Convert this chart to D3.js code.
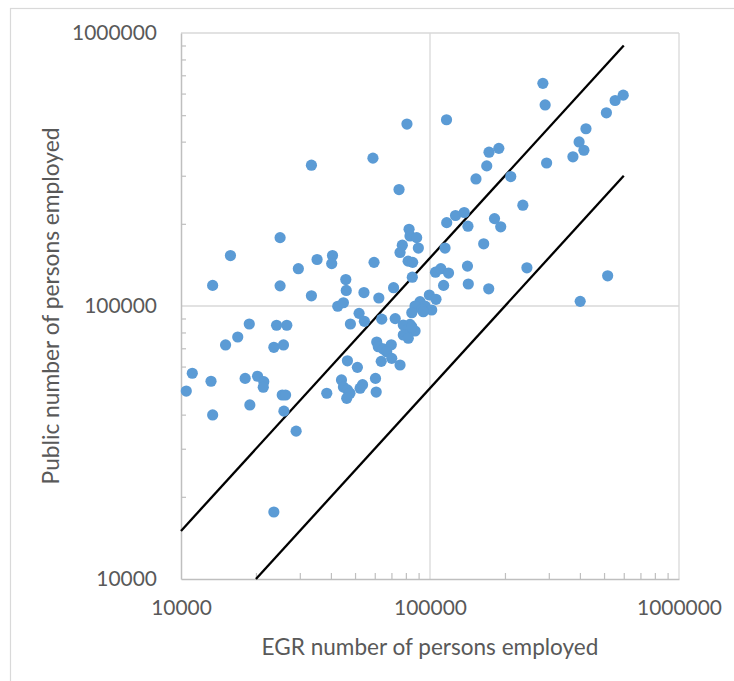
<!DOCTYPE html>
<html>
<head>
<meta charset="utf-8">
<script src="https://cdn.jsdelivr.net/npm/d3@7"></script>
<style>
  body { margin: 0; background: #fff; }
  text { font-family: Lato, "Open Sans", sans-serif; fill: #595959; }
</style>
</head>
<body>
<svg id="chart" width="734" height="681"></svg>
<script>
// EGR vs public count of persons employed, one point per unit
const egrEmployed = [
  80800, 116500, 33400, 59000, 75100, 116700, 82400, 83100, 88400, 89800,
  77400, 75800, 25000, 15800, 35200, 40600, 40300, 29600, 59600, 81700,
  85200, 114900, 105200, 110500, 118700, 84900, 13400, 25000, 45900, 46100,
  71400, 54300, 33400, 62300, 113400, 284000, 290000, 597000, 554000, 511000,
  423000, 397000, 415000, 375000, 294000, 172600, 189000, 169000, 153000, 211000,
  236000, 126600, 137200, 142000, 181600, 192300, 164300, 141400, 142500, 172100,
  245000, 517000, 401000, 99400, 105700, 91200, 87100, 95500, 101600, 84500,
  92600, 94000, 42600, 44900, 51900, 54500, 47900, 64000, 72500, 78100,
  83100, 87100, 80600, 78100, 81800, 84500, 18800, 24200, 26600, 16900,
  15100, 23600, 25800, 61100, 62000, 64900, 69900, 67000, 63700, 70200,
  75800, 46600, 51100, 11100, 10500, 13200, 18100, 20300, 21500, 21400,
  44100, 44900, 46600, 47700, 46300, 52400, 53600, 60400, 60800, 38500,
  25500, 26300, 18900, 13400, 25900, 29000, 23600
];
const publicEmployed = [
  464000, 481000, 328000, 348000, 267000, 202000, 191000, 180500, 178000, 163000,
  167000, 157000, 178000, 153000, 148000, 153000, 143000, 137000, 144500, 146000,
  144500, 163000, 133000, 137000, 132000, 127500, 119000, 118500, 125000, 114000,
  116700, 112000, 109000, 107000, 119000, 654000, 545000, 592000, 566000, 510000,
  446000, 399000, 372000, 352000, 334000, 366000, 378000, 326000, 292000, 298000,
  234000, 214500, 220000, 196000, 209000, 195000, 169000, 140000, 120400, 115600,
  138000, 129000, 104000, 109700, 105800, 103700, 100000, 100000, 96700, 94500,
  97300, 95300, 99800, 102800, 94000, 87900, 85900, 89500, 89900, 85200,
  85600, 81000, 81700, 78300, 76200, 84000, 85900, 85000, 85000, 77000,
  72000, 70600, 72000, 73800, 70900, 69600, 72100, 68000, 62700, 64300,
  60800, 63000, 59600, 56700, 48800, 53000, 54300, 55300, 52800, 50400,
  53600, 50500, 49300, 47900, 45900, 50000, 51500, 54300, 48400, 47900,
  47200, 47200, 43400, 39900, 41200, 34800, 17600
];

// Reference lines: public = 1.5 x EGR and public = 0.5 x EGR
const upperLine = [[10000, 15000], [600000, 900000]];
const lowerLine = [[20000, 10000], [600000, 300000]];

const majorTicks = [10000, 100000, 1000000];
const minorTicks = [];
[10000, 100000].forEach(d => { for (let k = 2; k <= 9; k++) minorTicks.push(k * d); });

const xTitle = "EGR number of persons employed";
const yTitle = "Public number of persons employed";

const svg = d3.select("#chart");
const plot = { left: 181, right: 679, top: 33, bottom: 579 };

const x = d3.scaleLog().domain([1e4, 1e6]).range([plot.left, plot.right]);
const y = d3.scaleLog().domain([1e4, 1e6]).range([plot.bottom, plot.top]);

const gridColor = "#d9d9d9";
const axisColor = "#bfbfbf";

// outer chart frame
svg.append("rect")
  .attr("x", 10.5).attr("y", 8.5)
  .attr("width", 760).attr("height", 700)
  .attr("fill", "none").attr("stroke", gridColor).attr("stroke-width", 1.2);

// major gridlines (decades)
const grid = svg.append("g");
grid.selectAll(".vg").data(majorTicks.slice(1)).join("line")
  .attr("x1", d => x(d)).attr("x2", d => x(d))
  .attr("y1", plot.top).attr("y2", plot.bottom)
  .attr("stroke", gridColor).attr("stroke-width", 1.3);
grid.selectAll(".hg").data(majorTicks.slice(1)).join("line")
  .attr("y1", d => y(d)).attr("y2", d => y(d))
  .attr("x1", plot.left).attr("x2", plot.right)
  .attr("stroke", gridColor).attr("stroke-width", 1.3);

// axes with inward minor ticks
const xAxisG = svg.append("g").attr("transform", `translate(0,${plot.bottom})`)
  .call(d3.axisBottom(x).tickValues(minorTicks).tickSizeInner(-6).tickSizeOuter(0).tickFormat(""));
const yAxisG = svg.append("g").attr("transform", `translate(${plot.left},0)`)
  .call(d3.axisLeft(y).tickValues(minorTicks).tickSizeInner(-5).tickSizeOuter(0).tickFormat(""));
[xAxisG, yAxisG].forEach(g => {
  g.select(".domain").attr("stroke", axisColor).attr("stroke-width", 1.5);
  g.selectAll(".tick line").attr("stroke", axisColor).attr("stroke-width", 1.2);
});

// fit a font size so that a sample string reaches a given width
function fitSize(str, target, base) {
  const t = svg.append("text").attr("font-size", base).text(str);
  const w = t.node().getComputedTextLength();
  t.remove();
  return base * target / w;
}
const tickSize = fitSize("1000000", 85, 20);

// tick labels
const fmt = d3.format("d");
const xLab = svg.append("g").attr("transform", `translate(0,${plot.bottom})`)
  .call(d3.axisBottom(x).tickValues(majorTicks).tickSize(0).tickPadding(21).tickFormat(fmt));
const yLab = svg.append("g").attr("transform", `translate(${plot.left},0)`)
  .call(d3.axisLeft(y).tickValues(majorTicks).tickSize(0).tickPadding(24).tickFormat(fmt));
[xLab, yLab].forEach(g => {
  g.select(".domain").remove();
  g.selectAll("text").attr("font-size", tickSize).attr("font-family", null).attr("fill", "#595959");
});

// axis titles
svg.append("text")
  .attr("x", (plot.left + plot.right) / 2).attr("y", 655)
  .attr("text-anchor", "middle")
  .attr("font-size", fitSize(xTitle, 337, 20))
  .text(xTitle);
svg.append("text")
  .attr("transform", `translate(59,${(plot.top + plot.bottom) / 2}) rotate(-90)`)
  .attr("text-anchor", "middle")
  .attr("font-size", fitSize(yTitle, 357, 20))
  .text(yTitle);

// reference lines
const line = d3.line().x(d => x(d[0])).y(d => y(d[1]));
svg.selectAll(".ref").data([upperLine, lowerLine]).join("path")
  .attr("d", line)
  .attr("fill", "none").attr("stroke", "#000").attr("stroke-width", 2.3);

// scatter points
const points = egrEmployed.map((v, i) => [v, publicEmployed[i]]);
svg.append("g").selectAll("circle").data(points).join("circle")
  .attr("cx", d => x(d[0])).attr("cy", d => y(d[1]))
  .attr("r", 5.6)
  .attr("fill", "#5b9bd5");
</script>
</body>
</html>
